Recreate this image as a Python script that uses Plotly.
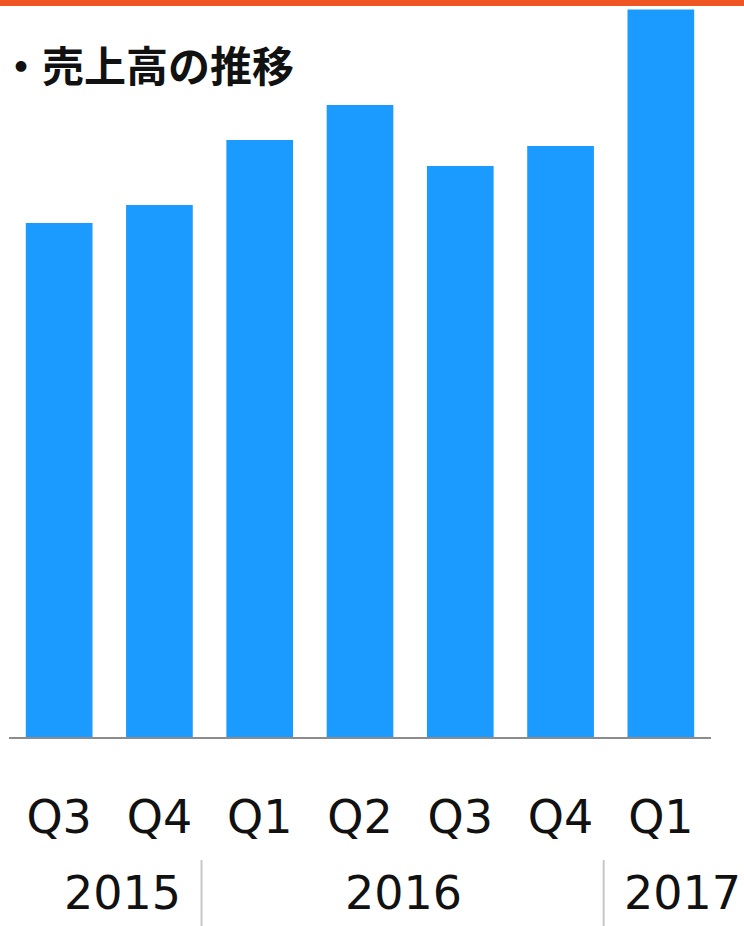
import plotly.graph_objects as go

# Quarterly revenue (relative units)
quarters = ["Q3", "Q4", "Q1", "Q2", "Q3", "Q4", "Q1"]
years = ["2015", "2016", "2017"]
year_pos = [0.63, 3.43, 6.22]      # centre of each year group on the category axis
year_breaks = [1.42, 5.43]         # dividers between year groups
revenue = [514, 532, 597, 632, 571, 591, 727.5]

W, H = 744, 926
ML, MR, MT, MB = 9, 33, 9, 189
ph = H - MT - MB
pw = W - ML - MR

BLUE = "#1b9bff"
ORANGE = "#ef5623"

fig = go.Figure(
    go.Bar(
        x=list(range(len(quarters))),
        y=revenue,
        marker=dict(color=BLUE, line=dict(width=0)),
        width=0.665,
        cliponaxis=False,
        hoverinfo="skip",
    )
)

def py(pix):
    """paper y for a pixel row in the page"""
    return (H - MB - pix) / ph

shapes = [
    dict(type="rect", xref="paper", yref="paper",
         x0=-ML / pw, x1=1 + MR / pw,
         y0=py(6), y1=py(-2), fillcolor=ORANGE, line=dict(width=0), layer="above"),
]
for xb in year_breaks:
    shapes.append(dict(type="line", xref="x", yref="paper", x0=xb, x1=xb,
                       y0=py(860), y1=py(926), line=dict(color="#c8c8c8", width=2)))

annotations = [
    dict(text="<b>・売上高の推移</b>", xref="paper", yref="paper",
         x=-11 / pw, y=py(64), xanchor="left", yanchor="middle",
         showarrow=False,
         font=dict(family="Noto Sans CJK JP", size=42, color="#111111")),
]
for yr, xp in zip(years, year_pos):
    annotations.append(dict(text=yr, xref="x", yref="paper", x=xp, y=py(893),
                            xanchor="center", yanchor="middle", showarrow=False,
                            font=dict(family="DejaVu Sans", size=46, color="#111111")))

fig.update_layout(
    width=W, height=H,
    margin=dict(l=ML, r=MR, t=MT, b=MB, pad=0),
    paper_bgcolor="white", plot_bgcolor="white",
    showlegend=False,
    shapes=shapes,
    annotations=annotations,
    xaxis=dict(
        range=[-0.5, 6.5],
        tickmode="array",
        tickvals=list(range(len(quarters))),
        ticktext=quarters,
        tickfont=dict(family="DejaVu Sans", size=46, color="#111111"),
        ticks="",
        ticklabelstandoff=39,
        showgrid=False, zeroline=False,
        showline=True, linecolor="#8c8c8c", linewidth=2,
        fixedrange=True,
    ),
    yaxis=dict(
        range=[0, ph],
        visible=False,
        showgrid=False, zeroline=False,
        fixedrange=True,
    ),
)

fig.write_html("out.html", config={"displayModeBar": False})
